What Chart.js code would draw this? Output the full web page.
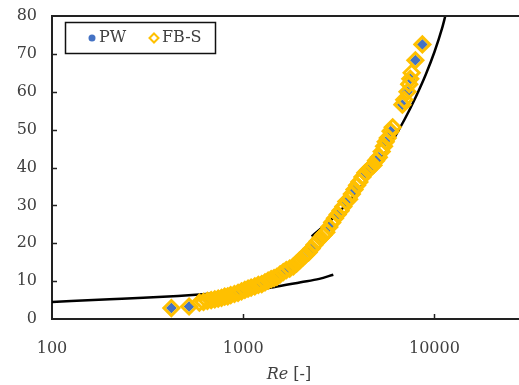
<!DOCTYPE html>
<html>
<head>
<meta charset="utf-8">
<script src="https://cdn.jsdelivr.net/npm/chart.js@4/dist/chart.umd.min.js"></script>
<style>
  body { margin: 0; background: #fff; }
  #wrap { width: 519px; height: 385px; position: relative; }
</style>
</head>
<body>
<div id="wrap"><canvas id="myChart"></canvas></div>
<script>
// tick labels
var xTicks = [100, 1000, 10000];
var yTicks = [0, 10, 20, 30, 40, 50, 60, 70, 80];

// PW (blue filled diamonds)
var pwRe  = [421, 521, 680, 740, 830, 900, 980, 1060, 1150, 1250, 1350, 1450, 1560, 1680, 1830, 2050, 2280, 2540, 2820, 3120, 3460, 3820, 4350, 4650, 5120, 5560, 5900, 6800, 7230, 7480, 7950, 8650];
var pwVal = [2.9, 3.3, 5.0, 5.4, 6.0, 6.6, 7.3, 8.0, 8.6, 9.2, 10.1, 10.8, 11.8, 12.9, 13.9, 16.3, 18.6, 21.4, 24.3, 27.6, 31.0, 34.2, 38.6, 40.0, 42.7, 46.8, 49.6, 56.6, 60.0, 63.4, 68.3, 72.5];

// FB-S (hollow yellow diamonds)
var fbRe  = [421, 521, 590, 620, 650, 680, 710, 740, 770, 800, 830, 860, 900, 940, 980, 1020, 1060, 1100, 1150, 1200, 1250, 1300, 1350, 1400, 1450, 1500, 1560, 1620, 1680, 1750, 1830, 1900, 1970, 2050, 2120, 2200, 2280, 2360, 2450, 2540, 2630, 2720, 2820, 2920, 3020, 3120, 3230, 3340, 3460, 3580, 3700, 3820, 3940, 4050, 4200, 4350, 4500, 4650, 4800, 4950, 5120, 5300, 5450, 5560, 5700, 5900, 6050, 6800, 6950, 7230, 7380, 7480, 7600, 7950, 8650];
var fbVal = [2.9, 3.3, 4.3, 4.5, 4.8, 5.0, 5.2, 5.4, 5.6, 5.9, 6.0, 6.3, 6.6, 6.9, 7.3, 7.7, 8.0, 8.3, 8.6, 9.0, 9.2, 9.7, 10.1, 10.5, 10.8, 11.1, 11.8, 12.4, 12.9, 13.3, 13.9, 14.6, 15.4, 16.3, 16.9, 17.6, 18.6, 19.6, 20.5, 21.4, 22.2, 22.9, 24.3, 25.5, 26.6, 27.6, 28.6, 29.7, 31.0, 31.6, 33.0, 34.2, 35.3, 36.2, 37.5, 38.6, 39.3, 40.0, 40.6, 41.8, 42.7, 44.2, 45.6, 46.8, 47.8, 49.6, 50.6, 56.6, 57.9, 60.0, 62.0, 63.4, 65.0, 68.3, 72.5];

// black correlation curves
var lamRe   = [100, 200, 300, 456, 700, 1000, 1440, 2000, 2500, 2960];
var lamVal  = [4.5, 5.2, 5.6, 6.1, 6.75, 7.4, 8.4, 9.7, 10.6, 11.7];
var turbRe  = [2280, 3000, 4000, 5000, 6000, 7000, 8000, 9000, 10000, 11000, 11400];
var turbVal = [21.8, 27.0, 34.0, 40.5, 46.8, 52.8, 58.7, 64.5, 70.5, 77.0, 80.0];

var BLUE = "#4472C4", GOLD = "#FFC000", TXT = "#404040";
var FONT = "DejaVu Serif";

function pts(xs, ys) {
  var out = [];
  for (var i = 0; i < xs.length; i++) out.push({x: xs[i], y: ys[i]});
  return out;
}

// inward ticks, top frame line, legend box and axis title
var extras = {
  id: "extras",
  afterDraw: function(chart) {
    var c = chart.ctx, a = chart.chartArea;
    var xs = chart.scales.x, ys = chart.scales.y;
    c.save();
    c.strokeStyle = "#222";
    c.lineWidth = 2;
    c.beginPath();
    c.moveTo(a.left - 1, a.top);
    c.lineTo(chart.width, a.top);
    c.moveTo(a.right, a.bottom);
    c.lineTo(chart.width, a.bottom);
    c.stroke();
    c.lineWidth = 1.5;
    for (var i = 1; i < yTicks.length - 1; i++) {
      var py = Math.round(ys.getPixelForValue(yTicks[i])) + 0.5;
      c.beginPath(); c.moveTo(a.left, py); c.lineTo(a.left + 5, py); c.stroke();
    }
    for (var j = 1; j < xTicks.length; j++) {
      var px = Math.round(xs.getPixelForValue(xTicks[j])) + 0.5;
      c.beginPath(); c.moveTo(px, a.bottom); c.lineTo(px, a.bottom - 5); c.stroke();
    }

    // legend
    c.fillStyle = "#fff";
    c.fillRect(65, 22, 151, 31);
    c.strokeStyle = "#111";
    c.lineWidth = 1.5;
    c.strokeRect(65.5, 22.5, 150, 31);
    c.fillStyle = BLUE;
    c.beginPath(); c.arc(92, 38, 3.5, 0, Math.PI * 2); c.fill();
    c.strokeStyle = GOLD;
    c.lineWidth = 2;
    c.beginPath();
    c.moveTo(154, 33.5); c.lineTo(158.5, 38); c.lineTo(154, 42.5); c.lineTo(149.5, 38); c.closePath();
    c.stroke();
    c.fillStyle = TXT;
    c.font = "16px '" + FONT + "'";
    c.textBaseline = "middle";
    c.textAlign = "left";
    c.fillText("PW", 99, 38);
    c.fillText("FB-S", 162, 38);

    // x title: italic Re + [-]
    var t1 = "Re", t2 = " [-]";
    c.font = "italic 16px '" + FONT + "'";
    var w1 = c.measureText(t1).width;
    c.font = "16px '" + FONT + "'";
    var w2 = c.measureText(t2).width;
    var sx = 289 - (w1 + w2) / 2;
    c.font = "italic 16px '" + FONT + "'";
    c.fillText(t1, sx, 375);
    c.font = "16px '" + FONT + "'";
    c.fillText(t2, sx + w1, 375);
    c.restore();
  }
};

new Chart("myChart", {
  type: "scatter",
  data: {
    datasets: [
      {
        label: "FB-S",
        data: pts(fbRe, fbVal),
        pointStyle: "rectRot",
        pointRadius: 7.5,
        backgroundColor: "rgba(0,0,0,0)",
        borderColor: GOLD,
        borderWidth: 3,
        order: 0
      },
      {
        label: "PW",
        data: pts(pwRe, pwVal),
        pointStyle: "rectRot",
        pointRadius: 5.5,
        backgroundColor: BLUE,
        borderWidth: 0,
        order: 1
      },
      {
        label: "laminar",
        data: pts(lamRe, lamVal),
        showLine: true,
        pointRadius: 0,
        borderColor: "#000",
        borderWidth: 2.5,
        cubicInterpolationMode: "monotone",
        order: 2
      },
      {
        label: "turbulent",
        data: pts(turbRe, turbVal),
        showLine: true,
        pointRadius: 0,
        borderColor: "#000",
        borderWidth: 2.5,
        cubicInterpolationMode: "monotone",
        order: 2
      }
    ]
  },
  options: {
    responsive: true,
    maintainAspectRatio: false,
    animation: false,
    layout: { padding: { top: 16, right: 0, left: 0, bottom: 0 } },
    plugins: {
      legend: { display: false },
      tooltip: { enabled: false }
    },
    scales: {
      x: {
        type: "logarithmic",
        min: 100,
        max: 24400,
        afterBuildTicks: function(s) { s.ticks = xTicks.map(function(v) { return {value: v}; }); },
        afterFit: function(s) { s.height = 66; s.paddingLeft = 0; s.paddingRight = 0; },
        ticks: {
          autoSkip: false,
          maxRotation: 0,
          padding: 20,
          color: TXT,
          font: { family: FONT, size: 16 },
          callback: function(v) { return String(v); }
        },
        grid: { display: false, drawTicks: false },
        border: { display: true, color: "#222", width: 2 }
      },
      y: {
        min: 0,
        max: 80,
        afterBuildTicks: function(s) { s.ticks = yTicks.map(function(v) { return {value: v}; }); },
        afterFit: function(s) { s.width = 52; s.paddingTop = 0; s.paddingBottom = 0; },
        ticks: {
          padding: 15,
          color: TXT,
          font: { family: FONT, size: 16 }
        },
        grid: { display: false, drawTicks: false },
        border: { display: true, color: "#222", width: 2 }
      }
    }
  },
  plugins: [extras]
});
</script>
</body>
</html>
